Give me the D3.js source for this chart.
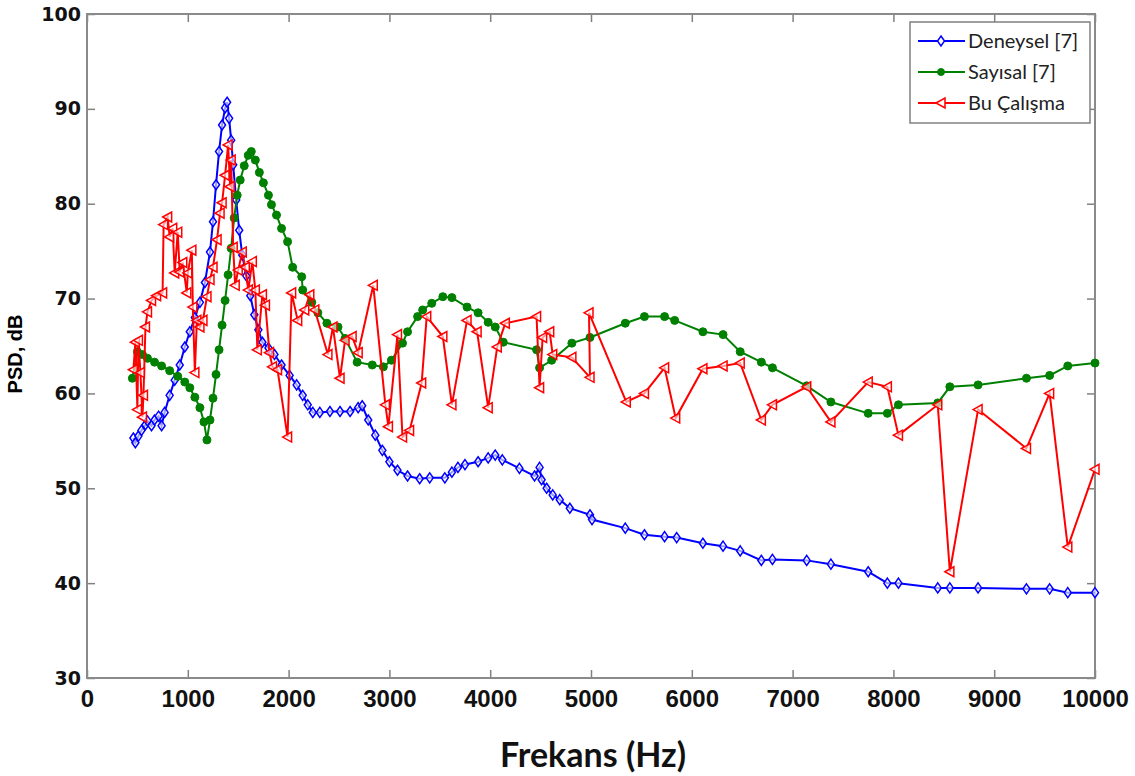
<!DOCTYPE html>
<meta charset="utf-8">
<script src="https://d3js.org/d3.v7.min.js"></script>
<style>
  body { margin: 0; background: #fff; }
</style>
<div id="my_dataviz"></div>
<script>
    // data (Hz, dB)
    var denFreq = [460, 480, 510, 540, 580, 600, 640, 670, 710, 740, 770, 820, 870, 920, 970, 1020, 1070, 1120, 1170, 1220,
        1250, 1280, 1310, 1340, 1370, 1390, 1410, 1430, 1450, 1480, 1510, 1540, 1580, 1620, 1660, 1700, 1740, 1800, 1860, 1930,
        2010, 2080, 2140, 2190, 2240, 2310, 2410, 2510, 2610, 2690, 2730, 2790, 2860, 2930, 3000, 3080, 3180, 3300, 3400, 3550,
        3620, 3680, 3750, 3880, 3980, 4050, 4120, 4290, 4440, 4490, 4510, 4560, 4620, 4690, 4790, 4990, 5010, 5340, 5530, 5730,
        5850, 6110, 6310, 6480, 6690, 6800, 7140, 7380, 7750, 7940, 8050, 8440, 8560, 8840, 9320, 9550, 9730, 10000];
    var denPsd = [55.3, 54.8, 55.5, 56.1, 56.7, 57.1, 56.6, 57.2, 57.6, 56.6, 58.0, 59.8, 61.4, 63.0, 64.9, 66.5, 68.0, 69.6, 71.7, 74.9,
        78.1, 82.0, 85.5, 88.3, 90.1, 90.7, 89.0, 86.7, 84.1, 80.4, 77.2, 74.6, 72.4, 70.3, 68.3, 66.7, 65.4, 64.8, 64.1, 63.0,
        61.9, 60.9, 59.8, 58.8, 58.0, 58.0, 58.1, 58.1, 58.1, 58.5, 58.7, 57.2, 55.6, 54.0, 52.8, 51.9, 51.3, 51.0, 51.1, 51.1,
        51.7, 52.2, 52.5, 52.8, 53.2, 53.5, 53.0, 52.1, 51.3, 52.2, 50.9, 50.0, 49.3, 48.8, 47.9, 47.2, 46.7, 45.8, 45.1, 44.9,
        44.8, 44.2, 43.9, 43.4, 42.4, 42.5, 42.4, 42.0, 41.2, 40.0, 40.0, 39.5, 39.5, 39.5, 39.4, 39.4, 39.0, 39.0];

    var sayFreq = [450, 500, 550, 600, 670, 740, 820, 900, 970, 1020, 1070, 1120, 1160, 1190, 1220, 1250, 1280, 1310, 1340, 1370,
        1400, 1430, 1460, 1490, 1520, 1560, 1600, 1630, 1670, 1710, 1750, 1800, 1830, 1880, 1930, 1990, 2040, 2130, 2140, 2230,
        2290, 2380, 2490, 2560, 2680, 2830, 2940, 3020, 3130, 3180, 3280, 3330, 3420, 3530, 3620, 3770, 3880, 3980, 4050, 4130,
        4460, 4490, 4610, 4810, 4990, 5340, 5530, 5730, 5830, 6110, 6310, 6480, 6690, 6800, 7140, 7380, 7750, 7940, 8050, 8440,
        8560, 8840, 9320, 9550, 9730, 10000];
    var sayPsd = [61.6, 64.4, 64.1, 63.7, 63.3, 62.9, 62.4, 61.8, 61.2, 60.6, 59.6, 58.5, 57.0, 55.1, 57.2, 59.5, 62.0, 64.6, 67.2, 69.8,
        72.5, 75.3, 78.5, 80.9, 82.5, 84.0, 85.1, 85.5, 84.6, 83.3, 82.2, 80.9, 79.9, 78.8, 77.4, 76.0, 73.3, 72.3, 70.9, 69.6,
        68.5, 67.4, 67.0, 65.8, 63.3, 63.0, 62.8, 63.5, 65.3, 66.5, 68.1, 68.8, 69.5, 70.2, 70.1, 69.1, 68.5, 67.5, 67.0, 65.4,
        64.6, 62.7, 63.5, 65.3, 65.9, 67.4, 68.1, 68.1, 67.7, 66.5, 66.2, 64.4, 63.3, 62.7, 60.8, 59.1, 57.9, 57.9, 58.8, 59.0,
        60.7, 60.9, 61.6, 61.9, 62.9, 63.2];

    var buFreq = [460, 480, 500, 510, 530, 550, 560, 580, 600, 640, 690, 750, 760, 800, 820, 850, 870, 900, 920, 950,
        990, 1000, 1040, 1050, 1070, 1090, 1120, 1150, 1190, 1220, 1250, 1290, 1320, 1340, 1370, 1400, 1420, 1430, 1450, 1470,
        1500, 1540, 1570, 1600, 1640, 1670, 1690, 1740, 1770, 1810, 1840, 1890, 1990, 2030, 2090, 2160, 2210, 2260, 2390, 2440,
        2510, 2560, 2630, 2690, 2840, 2960, 2990, 3080, 3130, 3200, 3320, 3370, 3530, 3620, 3770, 3870, 3980, 4070, 4150, 4460,
        4490, 4520, 4590, 4620, 4810, 4990, 4980, 5350, 5530, 5730, 5840, 6110, 6310, 6480, 6690, 6800, 7140, 7380, 7750, 7940,
        8050, 8440, 8560, 8840, 9320, 9550, 9730, 10000];
    var buPsd = [62.5, 65.4, 58.3, 65.6, 62.2, 57.5, 59.8, 67.0, 68.6, 69.8, 70.3, 70.6, 77.8, 78.6, 76.5, 77.4, 72.7, 77.0, 72.8, 73.8,
        70.6, 72.7, 75.1, 69.1, 62.2, 67.7, 67.0, 67.7, 70.2, 72.0, 73.3, 76.2, 79.0, 80.1, 83.0, 86.2, 81.8, 84.6, 75.4, 71.4,
        73.0, 74.9, 73.3, 70.9, 73.9, 70.9, 64.6, 70.4, 69.3, 64.3, 62.8, 62.5, 55.4, 70.6, 67.7, 68.8, 70.4, 68.8, 64.1, 67.0,
        61.6, 65.6, 66.0, 64.3, 71.4, 58.8, 56.5, 66.2, 55.4, 56.1, 61.1, 68.1, 66.0, 58.8, 67.7, 66.5, 58.5, 64.9, 67.4, 68.1,
        60.6, 65.9, 66.5, 64.1, 63.8, 61.7, 68.5, 59.1, 60.0, 62.7, 57.4, 62.6, 62.9, 63.2, 57.2, 58.8, 60.7, 57.0, 61.2, 60.7,
        55.6, 58.8, 41.2, 58.3, 54.2, 60.0, 43.8, 52.0];

    var xTicks = [0, 1000, 2000, 3000, 4000, 5000, 6000, 7000, 8000, 9000, 10000];
    var yTicks = [30, 40, 50, 60, 70, 80, 90, 100];
    var seriesNames = ["Deneysel [7]", "Sayısal [7]", "Bu Çalışma"];

    var margin = { top: 14, right: 40, bottom: 98, left: 87 },
        width = 1135 - margin.left - margin.right,
        height = 776 - margin.top - margin.bottom;

    var svg = d3.select("#my_dataviz")
        .append("svg")
        .attr("width", 1135)
        .attr("height", 776)
        .append("g")
        .attr("transform", "translate(" + margin.left + "," + margin.top + ")");

    var x = d3.scaleLinear().domain([0, 10000]).range([0, width]);
    var y = d3.scaleLinear().domain([30, 100]).range([height, 0]);

    // axes, ticks pointing inward like matlab
    var xAxis = svg.append("g")
        .attr("transform", "translate(0," + height + ")")
        .call(d3.axisBottom(x).tickValues(xTicks).tickSize(-8).tickPadding(12).tickFormat(d3.format("d")));
    xAxis.selectAll("text")
        .style("font-family", "'Liberation Sans', Arial, sans-serif")
        .style("font-weight", "bold")
        .style("font-size", "24px")
        .attr("fill", "#111");

    var yAxis = svg.append("g")
        .call(d3.axisLeft(y).tickValues(yTicks).tickSize(-8).tickPadding(6));
    yAxis.selectAll("text")
        .style("font-family", "'DejaVu Sans', sans-serif")
        .style("font-weight", "bold")
        .style("font-size", "19px")
        .attr("fill", "#111");

    svg.append("g")
        .call(d3.axisTop(x).tickValues(xTicks).tickSize(-8).tickFormat(""));
    svg.append("g")
        .attr("transform", "translate(" + width + ",0)")
        .call(d3.axisRight(y).tickValues(yTicks).tickSize(-8).tickFormat(""));

    svg.selectAll(".domain").remove();
    svg.selectAll(".tick line").attr("stroke", "#808080").attr("stroke-width", 1.5);

    svg.append("rect")
        .attr("width", width)
        .attr("height", height)
        .attr("fill", "none")
        .attr("stroke", "#8a8a8a")
        .attr("stroke-width", 2);

    // axis titles
    svg.append("text")
        .attr("transform", "translate(-65," + (height / 2 + 8) + ") rotate(-90)")
        .attr("text-anchor", "middle")
        .style("font-family", "'Liberation Sans', Arial, sans-serif")
        .style("font-weight", "bold")
        .style("font-size", "20px")
        .text("PSD, dB");

    svg.append("text")
        .attr("x", width / 2 + 2)
        .attr("y", height + 89)
        .attr("text-anchor", "middle")
        .style("font-family", "Lato, sans-serif")
        .style("font-weight", "bold")
        .style("font-size", "34px")
        .attr("fill", "#111")
        .text("Frekans (Hz)");

    // markers
    var diamond = "M0,-5L3.5,0L0,5L-3.5,0Z";
    var triLeft = "M-5,0L4,-5L4,5Z";

    function drawSeries(fr, ps, color, marker) {
        var pts = fr.map(function (f, i) { return { f: f, p: ps[i] }; });
        var line = d3.line()
            .x(function (d) { return x(d.f); })
            .y(function (d) { return y(d.p); });
        var g = svg.append("g");
        g.append("path")
            .datum(pts)
            .attr("d", line)
            .attr("fill", "none")
            .attr("stroke", color)
            .attr("stroke-width", 2);
        var m = g.selectAll("mymarker")
            .data(pts)
            .enter();
        if (marker == "circle") {
            m.append("circle")
                .attr("cx", function (d) { return x(d.f); })
                .attr("cy", function (d) { return y(d.p); })
                .attr("r", 4)
                .attr("fill", color)
                .attr("stroke", color);
        } else {
            m.append("path")
                .attr("d", marker)
                .attr("transform", function (d) { return "translate(" + x(d.f) + "," + y(d.p) + ")"; })
                .attr("fill", "white")
                .attr("fill-opacity", 0.6)
                .attr("stroke", color)
                .attr("stroke-width", 1.5);
        }
    }

    drawSeries(denFreq, denPsd, "#0000ff", diamond);
    drawSeries(sayFreq, sayPsd, "#008000", "circle");
    drawSeries(buFreq, buPsd, "#ff0000", triLeft);

    // legend
    var leg = svg.append("g").attr("transform", "translate(" + (910 - margin.left) + "," + (22 - margin.top) + ")");
    leg.append("rect")
        .attr("width", 180)
        .attr("height", 101)
        .attr("fill", "white")
        .attr("stroke", "#808080")
        .attr("stroke-width", 1.5);
    var legColors = ["#0000ff", "#008000", "#ff0000"];
    var legMarks = [diamond, "circle", triLeft];
    seriesNames.forEach(function (name, i) {
        var ly = 19 + i * 31;
        leg.append("line")
            .attr("x1", 8).attr("x2", 55)
            .attr("y1", ly).attr("y2", ly)
            .attr("stroke", legColors[i])
            .attr("stroke-width", 2);
        if (legMarks[i] == "circle") {
            leg.append("circle").attr("cx", 31).attr("cy", ly).attr("r", 3.5)
                .attr("fill", legColors[i]).attr("stroke", legColors[i]);
        } else {
            leg.append("path").attr("d", legMarks[i])
                .attr("transform", "translate(31," + ly + ")")
                .attr("fill", "white").attr("stroke", legColors[i]).attr("stroke-width", 1.5);
        }
        leg.append("text")
            .attr("x", 58)
            .attr("y", ly + 7)
            .style("font-family", "Lato, sans-serif")
            .style("font-size", "20px")
            .attr("fill", "#222")
            .text(name);
    });
</script>
